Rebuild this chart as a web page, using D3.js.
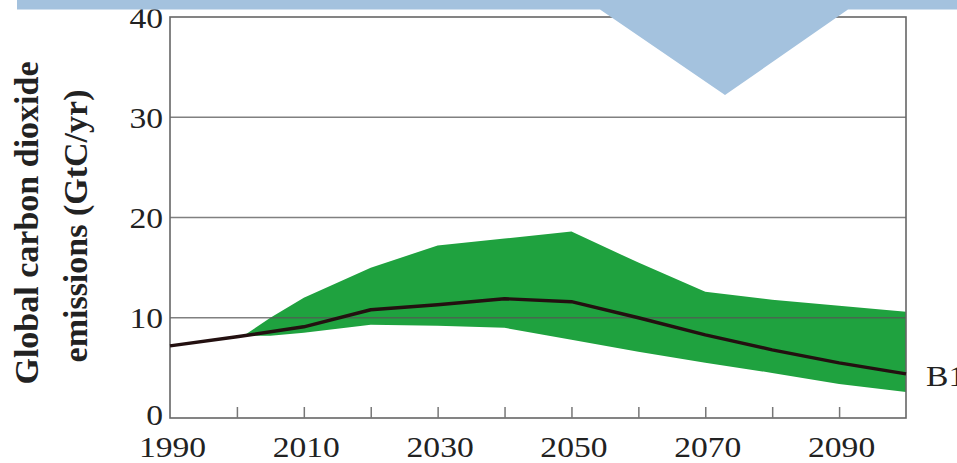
<!DOCTYPE html>
<html><head><meta charset="utf-8">
<script src="https://cdn.jsdelivr.net/npm/d3@7"></script>
<style>body{margin:0;background:#fff}svg{display:block}</style>
</head><body><svg id="c" width="957" height="463"></svg>
<script>
// ---- data ----
const years = [1990, 2000, 2010, 2020, 2030, 2040, 2050, 2060, 2070, 2080, 2090, 2100];
const median = [7.2, 8.1, 9.1, 10.8, 11.3, 11.9, 11.6, 10.0, 8.3, 6.8, 5.5, 4.4];
const bandYears = [2001, 2005, 2010, 2020, 2030, 2040, 2050, 2060, 2070, 2080, 2090, 2100];
const upper = [8.2, 10.0, 12.0, 15.0, 17.2, 17.9, 18.6, 15.5, 12.6, 11.8, 11.2, 10.6];
const lower = [8.2, 8.2, 8.5, 9.3, 9.2, 9.0, 7.8, 6.6, 5.5, 4.5, 3.4, 2.6];
const yTicks = [0, 10, 20, 30, 40];
const xTickMarks = [2000, 2010, 2020, 2030, 2040, 2050, 2060, 2070, 2080, 2090];
const xTickLabels = [1990, 2010, 2030, 2050, 2070, 2090];
const seriesLabel = "B1";
const yTitle = ["Global carbon dioxide", "emissions (GtC/yr)"];

const svg = d3.select("#c");
const x = d3.scaleLinear().domain([1990, 2100]).range([170, 906]);
const y = d3.scaleLinear().domain([0, 40]).range([418, 17]);
const serif = "'Liberation Serif','Times New Roman',serif";
const SX = 1.12;

// band
const band = bandYears.map((d, i) => ({yr: d, hi: upper[i], lo: lower[i]}));
svg.append("path").datum(band)
  .attr("d", d3.area().x(d => x(d.yr)).y0(d => y(d.lo)).y1(d => y(d.hi)))
  .attr("fill", "#1fa23f");

// gridlines
svg.append("g").selectAll("line").data([10, 20, 30]).join("line")
  .attr("x1", x(1990)).attr("x2", x(2100))
  .attr("y1", d => y(d)).attr("y2", d => y(d))
  .attr("stroke", "#555").attr("stroke-opacity", 0.75).attr("stroke-width", 1.6);

// frame
svg.append("rect").attr("x", x(1990)).attr("y", y(40))
  .attr("width", x(2100) - x(1990)).attr("height", y(0) - y(40))
  .attr("fill", "none").attr("stroke", "#666").attr("stroke-width", 1.6);

// x tick marks (inward)
const gxm = svg.append("g").attr("transform", `translate(0,${y(0)})`)
  .call(d3.axisBottom(x).tickValues(xTickMarks).tickSize(-11).tickFormat(""));
gxm.select(".domain").remove();
gxm.selectAll("line").attr("stroke", "#777").attr("stroke-width", 1.5);

// x labels
const gxl = svg.append("g").attr("transform", `translate(0,${y(0)})`)
  .call(d3.axisBottom(x).tickValues(xTickLabels).tickSize(0).tickFormat(d3.format("d")));
gxl.select(".domain").remove();
gxl.selectAll("text").attr("y", 0).attr("dy", 0)
  .attr("transform", `translate(2,39) scale(${SX},1)`)
  .attr("font-family", serif).attr("font-size", 30).attr("fill", "#222");

// y labels
const gy = svg.append("g").attr("transform", `translate(${x(1990)},0)`)
  .call(d3.axisLeft(y).tickValues(yTicks).tickSize(0).tickPadding(0));
gy.select(".domain").remove();
gy.selectAll("text").attr("x", 0).attr("dy", "0.34em")
  .attr("transform", `translate(-7,0) scale(${SX},1)`)
  .attr("font-family", serif).attr("font-size", 30).attr("fill", "#222");
gy.selectAll(".tick").filter(d => d === 0).select("text").attr("dy", "0.2em");

// median line
svg.append("path").datum(years.map((d, i) => [d, median[i]]))
  .attr("d", d3.line().x(d => x(d[0])).y(d => y(d[1])))
  .attr("fill", "none").attr("stroke", "#231010").attr("stroke-width", 3.4)
  .attr("stroke-linejoin", "round");

// series label
svg.append("text").attr("transform", `translate(926,386) scale(${SX},1)`)
  .attr("font-family", serif).attr("font-size", 30).attr("fill", "#222").text(seriesLabel);

// y title
[[38, 223], [87, 226]].forEach((p, i) => {
  svg.append("text").attr("transform", `translate(${p[0]},${p[1]}) rotate(-90)`)
    .attr("text-anchor", "middle").attr("font-family", serif)
    .attr("font-weight", "bold").attr("font-size", 34).attr("fill", "#222")
    .text(yTitle[i]);
});

// banner with arrow
svg.append("path")
  .attr("d", "M17,0 H957 V9.5 H848 L725,95 L600,9.5 H17 Z")
  .attr("fill", "#a4c2de");
</script></body></html>
